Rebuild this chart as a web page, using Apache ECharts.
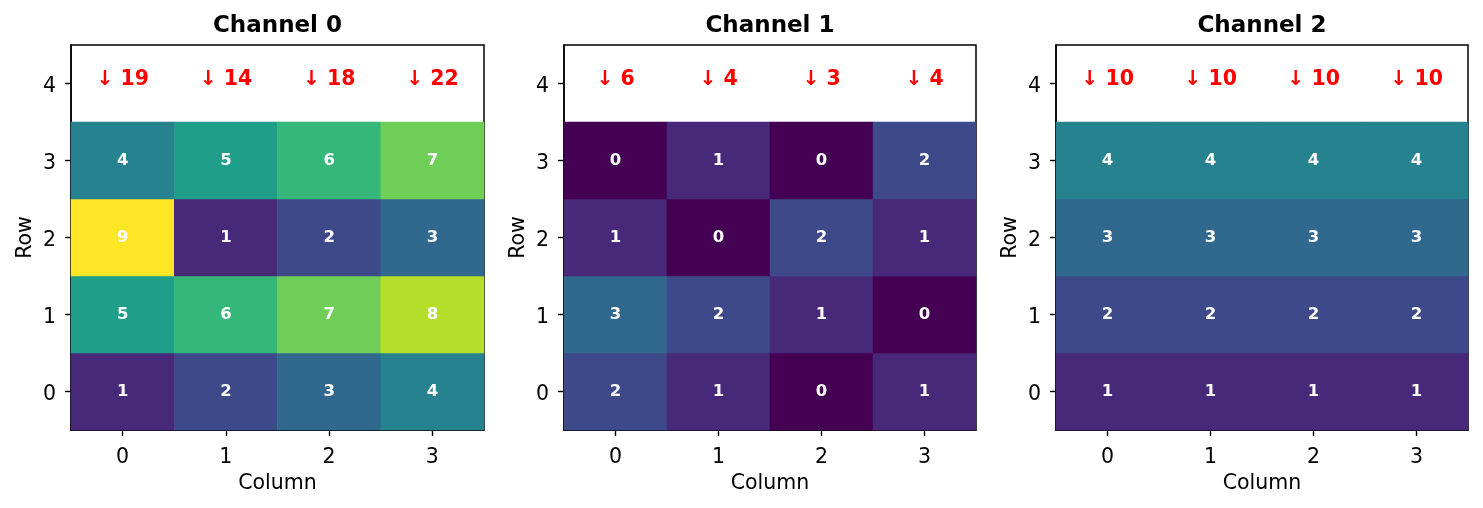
<!DOCTYPE html>
<html>
<head>
<meta charset="utf-8">
<script src="https://cdn.jsdelivr.net/npm/echarts@6/dist/echarts.min.js"></script>
<style>html,body{margin:0;padding:0;background:#fff;}#c{width:1483px;height:508px;}</style>
</head>
<body>
<div id="c"></div>
<script>
const columns = ['0', '1', '2', '3'];
const rows = ['0', '1', '2', '3', '4'];
const channelTitles = ['Channel 0', 'Channel 1', 'Channel 2'];
// values[row][col], row 0 at bottom
const channel0 = [[1, 2, 3, 4], [5, 6, 7, 8], [9, 1, 2, 3], [4, 5, 6, 7]];
const channel1 = [[2, 1, 0, 1], [3, 2, 1, 0], [1, 0, 2, 1], [0, 1, 0, 2]];
const channel2 = [[1, 1, 1, 1], [2, 2, 2, 2], [3, 3, 3, 3], [4, 4, 4, 4]];
const viridis = ['#440154', '#482878', '#3e4989', '#31688e', '#26828e', '#1f9e89', '#35b779', '#6ece58', '#b5de2b', '#fde725'];
const vmin = 0, vmax = 9;
const channels = [channel0, channel1, channel2];

const FONT = 'DejaVu Sans';
const gridPos = [{left: 71, width: 413}, {left: 564, width: 412}, {left: 1056, width: 412}];

const grids = [], xAxes = [], yAxes = [], series = [], titles = [], heatIdx = [];
const tickStyle = {show: true, alignWithLabel: true, length: 6, lineStyle: {color: '#000', width: 1.4}};
channels.forEach((ch, i) => {
  grids.push({left: gridPos[i].left, width: gridPos[i].width, top: 45, height: 385,
    show: true, borderColor: '#000', borderWidth: 1.5, backgroundColor: 'transparent'});
  titles.push({text: channelTitles[i], left: gridPos[i].left + gridPos[i].width / 2, top: 15, textAlign: 'center',
    padding: 0, textStyle: {fontFamily: FONT, fontWeight: 'bold', fontSize: 23, color: '#000'}});
  xAxes.push({type: 'category', gridIndex: i, data: columns, boundaryGap: true,
    name: 'Column', nameLocation: 'middle', nameGap: 43,
    nameTextStyle: {fontFamily: FONT, fontSize: 20.5, color: '#000'},
    axisLine: {show: true, lineStyle: {color: '#000', width: 1.5}}, splitLine: {show: false},
    axisTick: tickStyle,
    axisLabel: {fontFamily: FONT, fontSize: 20.5, color: '#000', margin: 17}});
  yAxes.push({type: 'category', gridIndex: i, data: rows, boundaryGap: true,
    name: 'Row', nameLocation: 'middle', nameGap: 35, nameRotate: 90,
    nameTextStyle: {fontFamily: FONT, fontSize: 20.5, color: '#000'},
    axisLine: {show: true, lineStyle: {color: '#000', width: 1.5}}, splitLine: {show: false},
    axisTick: tickStyle,
    axisLabel: {fontFamily: FONT, fontSize: 20.5, color: '#000', margin: 15, verticalAlign: 'top', lineHeight: 6}});
  const cells = [];
  ch.forEach((row, r) => row.forEach((v, c) => cells.push([c, r, v])));
  heatIdx.push(series.length);
  series.push({type: 'heatmap', xAxisIndex: i, yAxisIndex: i, data: cells,
    label: {show: true, color: '#fff', fontFamily: FONT, fontWeight: 'bold', fontSize: 16.5},
    itemStyle: {borderWidth: 0}, emphasis: {disabled: true}});
  const sums = columns.map((_, c) => ch.reduce((s, row) => s + row[c], 0));
  series.push({type: 'scatter', xAxisIndex: i, yAxisIndex: i, symbolSize: 0,
    itemStyle: {opacity: 1}, emphasis: {disabled: true},
    data: sums.map((s, c) => [c, 4, s]),
    label: {show: true, position: 'inside', offset: [0, -4], formatter: p => '↓ ' + p.value[2],
      color: '#ff0000', fontFamily: FONT, fontWeight: 'bold', fontSize: 20.5}});
});

const chart = echarts.init(document.getElementById('c'));
chart.setOption({
  animation: false,
  backgroundColor: '#fff',
  title: titles,
  grid: grids,
  xAxis: xAxes,
  yAxis: yAxes,
  visualMap: {show: false, type: 'continuous', min: vmin, max: vmax, dimension: 2,
    seriesIndex: heatIdx, inRange: {color: viridis}},
  series: series
});
</script>
</body>
</html>
